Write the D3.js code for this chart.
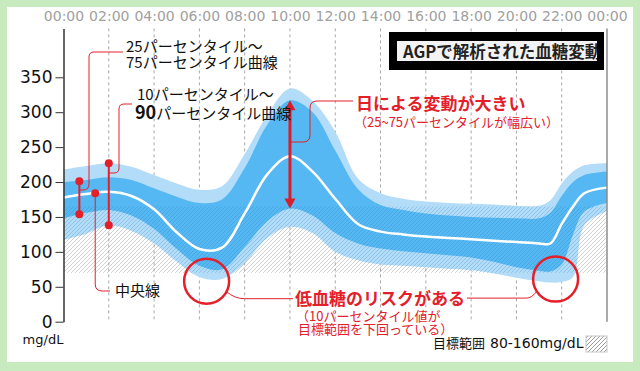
<!DOCTYPE html>
<html>
<head>
<meta charset="utf-8">
<script src="https://cdn.jsdelivr.net/npm/d3@7"></script>
<style>
html, body { margin: 0; padding: 0; background: #c8eabf; }
svg { display: block; }
</style>
</head>
<body>
<svg id="chart" width="640" height="371"></svg>
<script>
// time of day (hours) and glucose percentiles (mg/dL)
const hours = [0, 1, 2, 3, 4, 5, 6, 7, 8, 9, 10, 11, 12, 13, 14, 15, 16, 17, 18, 19, 20, 21, 21.5, 22, 22.5, 23, 24];
const p90 = [218, 223, 227, 222, 210, 198, 189, 194, 240, 296, 334, 316, 272, 205, 184, 176, 172, 170, 169, 168, 166, 166, 174, 198, 215, 224, 227];
const p75 = [200, 203, 207, 203, 191, 179, 170, 175, 220, 282, 317, 300, 245, 190, 167, 160, 155, 152, 150, 149, 148, 148, 156, 180, 200, 210, 215];
const p50 = [178, 183, 186, 180, 161, 128, 104, 106, 155, 211, 237, 215, 176, 140, 129, 125, 122, 120, 118, 116, 114, 112, 112, 140, 165, 184, 192];
const p25 = [148, 156, 160, 152, 133, 104, 80, 75, 107, 144, 162, 152, 127, 112, 105, 101, 98, 95, 92, 86, 78, 73, 72, 82, 125, 158, 170];
const p10 = [117, 126, 138, 130, 112, 86, 64, 61, 84, 120, 136, 127, 100, 88, 82, 80, 78, 76, 74, 69, 63, 58, 56, 57, 64, 138, 158];

const xTickHours = [0, 2, 4, 6, 8, 10, 12, 14, 16, 18, 20, 22, 24];
const xTickLabels = ['00:00', '02:00', '04:00', '06:00', '08:00', '10:00', '12:00', '14:00', '16:00', '18:00', '20:00', '22:00', '00:00'];
const yTicks = [0, 50, 100, 150, 200, 250, 300, 350];
const targetDrawn = [70, 165];

// annotation anchors (hour, mg/dL)
const iqrMark = { hour: 0.7, lo: 154, hi: 201 };
const decileMark = { hour: 2, lo: 138, hi: 227 };
const medianMark = { hour: 1.4, value: 184 };
const peakArrow = { hour: 10, lo: 162, hi: 317 };
const lowSpots = [{ hour: 6.32, value: 58 }, { hour: 21.73, value: 61 }];

const RED = '#e3202a';
const JP = '"Noto Sans CJK JP", "Noto Sans", sans-serif';
const NUM = '"DejaVu Sans", "Noto Sans CJK JP", sans-serif';

const svg = d3.select('#chart');
svg.append('rect').attr('width', 640).attr('height', 371).attr('fill', '#c8eabf');
svg.append('rect').attr('x', 7).attr('y', 7).attr('width', 626).attr('height', 355).attr('fill', '#fff');

const x = d3.scaleLinear().domain([0, 24]).range([63.5, 607]);
const y = d3.scaleLinear().domain([0, 420]).range([321.7, 28.4]);

const rows = hours.map((h, i) => ({ h, p10: p10[i], p25: p25[i], p50: p50[i], p75: p75[i], p90: p90[i] }));
const curve = d3.curveCatmullRom.alpha(0.5);

const defs = svg.append('defs');
const hatch = defs.append('pattern').attr('id', 'hatch')
    .attr('patternUnits', 'userSpaceOnUse').attr('width', 4).attr('height', 4);
hatch.append('path').attr('d', 'M-1,1 l2,-2 M0,4 l4,-4 M3,5 l2,-2')
    .attr('stroke', '#a0a0a0').attr('stroke-opacity', 0.5).attr('stroke-width', 1);
const hatchBlue = defs.append('pattern').attr('id', 'hatchBlue')
    .attr('patternUnits', 'userSpaceOnUse').attr('width', 4).attr('height', 4);
hatchBlue.append('path').attr('d', 'M-1,1 l2,-2 M0,4 l4,-4 M3,5 l2,-2')
    .attr('stroke', '#1b78b8').attr('stroke-opacity', 0.25).attr('stroke-width', 1);
const swatch = defs.append('pattern').attr('id', 'hatchDark')
    .attr('patternUnits', 'userSpaceOnUse').attr('width', 4).attr('height', 4);
swatch.append('path').attr('d', 'M-1,1 l2,-2 M0,4 l4,-4 M3,5 l2,-2')
    .attr('stroke', '#999').attr('stroke-width', 1);

const outerArea = d3.area().x(d => x(d.h)).y0(d => y(d.p10)).y1(d => y(d.p90)).curve(curve);
const innerArea = d3.area().x(d => x(d.h)).y0(d => y(d.p25)).y1(d => y(d.p75)).curve(curve);
const medianLine = d3.line().x(d => x(d.h)).y(d => y(d.p50)).curve(curve);

defs.append('clipPath').attr('id', 'bandClip')
    .append('path').attr('d', outerArea(rows));

// target range (hatched)
svg.append('rect')
    .attr('x', x(0)).attr('y', y(targetDrawn[1]))
    .attr('width', x(24) - x(0)).attr('height', y(targetDrawn[0]) - y(targetDrawn[1]))
    .attr('fill', 'url(#hatch)');

// dashed hour lines
svg.append('g').selectAll('line')
    .data(xTickHours.filter(h => h > 0 && h < 24))
    .enter().append('line')
    .attr('x1', d => x(d)).attr('x2', d => x(d))
    .attr('y1', y.range()[1]).attr('y2', y(0))
    .attr('stroke', '#a8a8a8').attr('stroke-dasharray', '3,3');

svg.append('path').attr('d', outerArea(rows)).attr('fill', '#b3dcf8');
svg.append('path').attr('d', innerArea(rows)).attr('fill', '#55b8f2');

svg.append('rect')
    .attr('clip-path', 'url(#bandClip)')
    .attr('x', x(0)).attr('y', y(targetDrawn[1]))
    .attr('width', x(24) - x(0)).attr('height', y(targetDrawn[0]) - y(targetDrawn[1]))
    .attr('fill', 'url(#hatchBlue)');

svg.append('path').attr('d', medianLine(rows))
    .attr('fill', 'none').attr('stroke', '#fff').attr('stroke-width', 2.5);

// right border line
svg.append('line')
    .attr('x1', x(24)).attr('x2', x(24)).attr('y1', y.range()[1]).attr('y2', y(0))
    .attr('stroke', '#8c8c8c').attr('stroke-width', 1.5);

// axes
const yAxis = svg.append('g')
    .attr('transform', `translate(${x(0)},0)`)
    .call(d3.axisLeft(y).tickValues(yTicks).tickSize(8).tickSizeOuter(0).tickPadding(3));
yAxis.select('.domain').attr('stroke', '#333').attr('stroke-width', 1.5);
yAxis.selectAll('.tick line').attr('stroke', '#333');
yAxis.selectAll('.tick text').attr('font-family', NUM).attr('font-size', 17).attr('fill', '#111');

const xAxis = svg.append('g')
    .attr('transform', 'translate(0,26)')
    .call(d3.axisTop(x).tickValues(xTickHours).tickFormat((d, i) => xTickLabels[i]).tickSize(0).tickPadding(5));
xAxis.select('.domain').remove();
xAxis.selectAll('.tick text').attr('font-family', NUM).attr('font-size', 14).attr('fill', '#a0a0a0');

svg.append('text').attr('x', 43).attr('y', 344).attr('text-anchor', 'middle')
    .attr('font-family', NUM).attr('font-size', 13).attr('fill', '#111').text('mg/dL');

// title box
svg.append('rect').attr('x', 389).attr('y', 32).attr('width', 215).attr('height', 38).attr('fill', '#000');
svg.append('rect').attr('x', 397).attr('y', 41).attr('width', 200).attr('height', 20).attr('fill', '#f3f3f3');
defs.append('clipPath').attr('id', 'titleClip')
    .append('rect').attr('x', 397).attr('y', 41).attr('width', 200).attr('height', 20);
svg.append('text').attr('clip-path', 'url(#titleClip)')
    .attr('x', 403).attr('y', 58).attr('font-family', JP).attr('font-size', 16.5)
    .attr('font-weight', 'bold').attr('fill', '#222').text('AGPで解析された血糖変動');

// connectors
const ann = svg.append('g').attr('fill', 'none').attr('stroke', RED).attr('stroke-width', 1);
const xi = x(iqrMark.hour), xd = x(decileMark.hour), xm = x(medianMark.hour);
ann.append('path').attr('d', `M123,52 H94 Q89,52 89,57 V184 Q89,190 83,190 H${xi}`);
ann.append('path').attr('d', `M132,104 H124 Q119,104 119,109 V168 Q119,173 114,173 H${xd}`);
ann.append('path').attr('d', `M${xm},${y(medianMark.value)} V284 Q${xm},291 ${xm + 7},291 H110`);
const xp = x(peakArrow.hour);
ann.append('path').attr('d', `M${xp},142 H303 Q310,142 310,135 V108 Q310,101 317,101 H353`);

const c1 = lowSpots[0], c2 = lowSpots[1];
const cx1 = x(c1.hour), cy1 = y(c1.value), cx2 = x(c2.hour), cy2 = y(c2.value);
ann.append('path').attr('d', `M${cx1 + 20},${cy1 + 10.5} Q${cx1 + 28},${cy1 + 17.5} ${cx1 + 38},${cy1 + 17.5} H293`);
ann.append('path').attr('d', `M467,${cy2 + 19} H${cx2 - 29} Q${cx2 - 24},${cy2 + 19} ${cx2 - 19},${cy2 + 12.5}`);

svg.append('g').selectAll('circle').data(lowSpots).enter().append('circle')
    .attr('cx', d => x(d.hour)).attr('cy', d => y(d.value)).attr('r', 22.5)
    .attr('fill', 'none').attr('stroke', RED).attr('stroke-width', 2.5);

// percentile markers
const marks = svg.append('g');
[[iqrMark.hour, iqrMark.lo, iqrMark.hi], [decileMark.hour, decileMark.lo, decileMark.hi]].forEach(([h, lo, hi]) => {
    marks.append('line').attr('x1', x(h)).attr('x2', x(h)).attr('y1', y(lo)).attr('y2', y(hi))
        .attr('stroke', RED).attr('stroke-width', 2);
    marks.append('circle').attr('cx', x(h)).attr('cy', y(lo)).attr('r', 4).attr('fill', RED);
    marks.append('circle').attr('cx', x(h)).attr('cy', y(hi)).attr('r', 4).attr('fill', RED);
});
marks.append('circle').attr('cx', xm).attr('cy', y(medianMark.value)).attr('r', 4).attr('fill', RED);

// peak double arrow
const yTop = y(peakArrow.hi), yBot = y(peakArrow.lo);
marks.append('line').attr('x1', xp).attr('x2', xp).attr('y1', yTop + 8).attr('y2', yBot - 8)
    .attr('stroke', '#d81e28').attr('stroke-width', 3);
marks.append('path').attr('d', `M${xp},${yTop} L${xp - 5.5},${yTop + 10} L${xp + 5.5},${yTop + 10} Z`).attr('fill', '#d81e28');
marks.append('path').attr('d', `M${xp},${yBot} L${xp - 5.5},${yBot - 10} L${xp + 5.5},${yBot - 10} Z`).attr('fill', '#d81e28');

// labels
const txt = (tx, ty, s, size, opts = {}) => svg.append('text')
    .attr('x', tx).attr('y', ty).attr('font-family', opts.family || JP).attr('font-size', size)
    .attr('font-weight', opts.weight || 'normal').attr('fill', opts.fill || '#111').text(s);

txt(126, 52, '25パーセンタイル～', 15);
txt(126, 68, '75パーセンタイル曲線', 15);
txt(137, 100, '10パーセンタイル～', 15);
const l90 = txt(135, 119, '', 15);
l90.append('tspan').attr('font-size', 18).attr('font-weight', 'bold').text('90');
l90.append('tspan').text('パーセンタイル曲線');
txt(115, 296, '中央線', 15);

txt(356, 110, '日による変動が大きい', 17, { weight: 'bold', fill: RED });
txt(354, 127, '（25~75パーセンタイルが幅広い）', 13, { fill: RED });
txt(295, 305, '低血糖のリスクがある', 17, { weight: 'bold', fill: RED });
txt(296, 321, '（10パーセンタイル値が', 13, { fill: RED });
txt(298, 334, '目標範囲を下回っている）', 13, { fill: RED });

txt(433, 348, '目標範囲', 13);
txt(490, 348, '80-160mg/dL', 14, { family: NUM });
svg.append('rect').attr('x', 586).attr('y', 336).attr('width', 21).attr('height', 16)
    .attr('fill', 'url(#hatchDark)').attr('stroke', '#c8c8c8');
</script>
</body>
</html>
